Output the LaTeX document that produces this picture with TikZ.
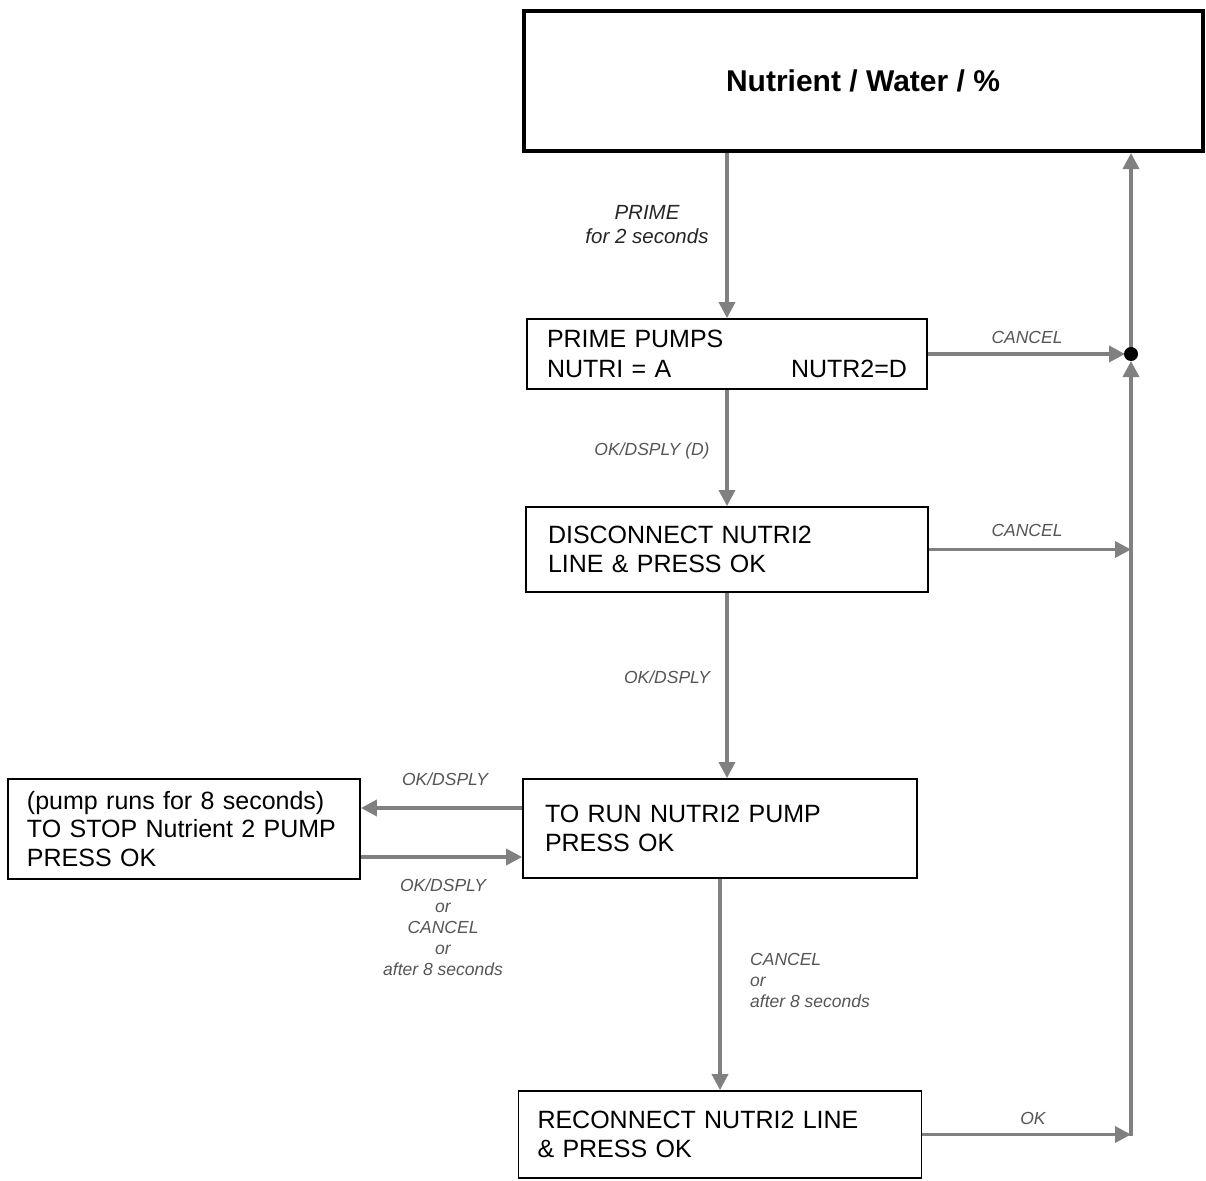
\documentclass[tikz,border=0pt]{standalone}
\usepackage{fontspec}
\setmainfont{Liberation Sans}
\usetikzlibrary{arrows.meta,calc}
\definecolor{linegray}{HTML}{808080}
\definecolor{labelgray}{HTML}{555555}
\begin{document}
\begin{tikzpicture}[x=1pt,y=-1pt,
  box/.style={draw=black,line width=1.8pt,rectangle,align=left,inner ysep=0pt,inner xsep=20pt,
    font=\fontsize{25}{29.5}\selectfont},
  arr/.style={draw=linegray,line width=3.5pt,-{Triangle[length=16pt,width=16pt]}},
  lbl/.style={text=labelgray,font=\fontsize{17.5}{21}\selectfont\itshape,align=center,inner sep=0pt}]
\useasboundingbox (0,0) rectangle (1206,1180);

% screens
\node[draw=black,line width=4pt,minimum width=679pt,minimum height=140pt,inner sep=0pt,
  font=\fontsize{30}{36}\selectfont\bfseries] (title) at (863,81) {Nutrient / Water / \%};
\node[box,text width=360pt,minimum height=70pt] (prime) at (727,354)
  {PRIME PUMPS\\NUTRI = A\hfill NUTR2=D};
\node[box,inner xsep=22pt,text width=358pt,minimum height=85pt] (disc) at (727,549.5)
  {DISCONNECT NUTRI2\\LINE \& PRESS OK};
\node[box,text width=350pt,inner xsep=22pt,minimum height=99pt] (torun) at (720,828.5)
  {TO RUN NUTRI2 PUMP\\PRESS OK};
\node[box,text width=314pt,inner xsep=19pt,minimum height=100pt,
  font=\fontsize{25}{28.5}\selectfont] (pump) at (184,829)
  {(pump runs for 8 seconds)\\TO STOP Nutrient 2 PUMP\\PRESS OK};
\node[box,text width=365pt,inner xsep=19pt,minimum height=87pt] (recon) at (720,1134.5)
  {RECONNECT NUTRI2 LINE\\\& PRESS OK};

% return rail
\coordinate (j) at (1131,354);
\coordinate (jtop) at (j |- title.south);

% main flow
\draw[arr] (prime.north |- title.south) -- (prime.north);
\draw[arr] (prime.south) -- (disc.north);
\draw[arr] (disc.south) -- (disc.south |- torun.north);
\draw[arr] (torun.south) -- (torun.south |- recon.north);

% side loop
\draw[arr] ([yshift=20.5pt]torun.west) -- ([yshift=20.5pt]torun.west -| pump.east);
\draw[arr] ([yshift=-28pt]pump.east) -- ([yshift=-28pt]pump.east -| torun.west);

% exits to the rail
\draw[arr,shorten >=6pt] (prime.east) -- (j);
\draw[arr] (disc.east) -- (disc.east -| j);
\draw[arr] (recon.east) -- (recon.east -| j);
\draw[arr] ([yshift=-1.75pt]recon.east -| j) -- ([yshift=-7pt]j);
\draw[arr] (j) -- (jtop);
\fill[black] (j) circle (7pt);

% labels
\node[lbl,text=black!85,font=\fontsize{20.5}{24}\selectfont\itshape] (lprime) at (647,225) {PRIME\\for 2 seconds};
\node[lbl] (lok1) at (652,451) {OK/DSPLY (D)};
\node[lbl] (lok2) at (667,677) {OK/DSPLY};
\node[lbl] (lc1) at (1027,337) {CANCEL};
\node[lbl] (lc2) at (1027,530) {CANCEL};
\node[lbl] (lok3) at (445,779) {OK/DSPLY};
\node[lbl] (lback) at (443,927) {OK/DSPLY\\or\\CANCEL\\or\\after 8 seconds};
\node[lbl,align=left,anchor=west] (lcan) at (750,980) {CANCEL\\or\\after 8 seconds};
\node[lbl] (lok4) at (1033,1118) {OK};
\end{tikzpicture}
\end{document}
